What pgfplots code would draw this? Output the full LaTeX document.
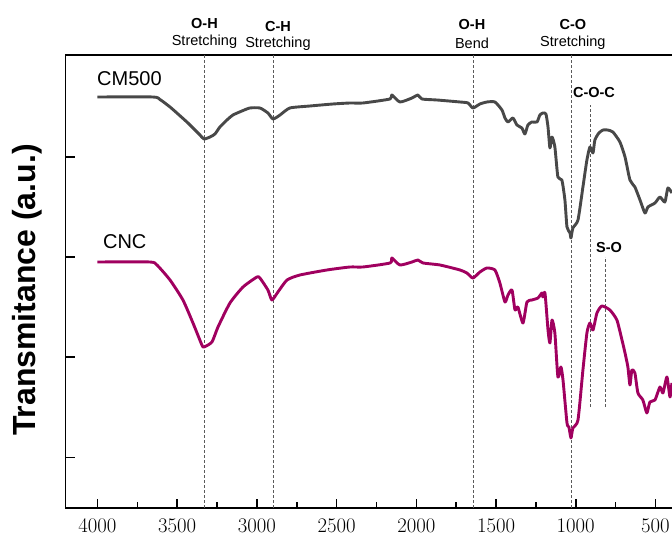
\documentclass[border=0pt]{standalone}
\usepackage{fontspec}
\setmainfont{Liberation Sans}
\usepackage{pgfplots}
\usepackage{pgfplotstable}
\pgfplotsset{compat=1.18}
\definecolor{cmgray}{RGB}{72,72,72}
\definecolor{cncmag}{RGB}{160,0,95}
\definecolor{dashgray}{RGB}{90,90,90}

\pgfplotstableread{
wn t
4000 440
3652 440
3608 437.5
3545 430
3495 423
3439 415
3401 409
3357 402
3332 398
3294 400
3263 403
3232 410
3188 417
3150 422
3094 426
3044 429
2981 429
2931 424
2899 418
2855 422
2793 429
2667 431
2523 433
2416 434
2335 434
2165 438
2153 442
2103 435
2027 439
1990 442
1965 438
1871 437
1726 435
1676 434
1645 429
1601 433
1557 435
1507 435
1463 427
1444 419
1425 415
1394 419
1369 412
1338 409
1319 403
1300 412
1275 415
1243 415
1225 422
1206 424
1187 423
1174 410
1162 389
1149 400
1131 390
1112 360
1087 357
1068 337
1055 310
1036 304
1030 299
1018 309
986 317
955 350
930 377
911 390
892 384
880 397
855 404
829 407
800 407
767 405
723 395
691 380
660 357
629 350
597 337
566 324
547 330
503 334
472 340
441 335
422 349
397 344
}\cmdata

\pgfplotstableread{
wn t
4000 275
3671 275
3627 272
3545 257
3464 237
3401 214
3345 192
3332 190
3282 195
3244 210
3169 234
3087 250
3000 260
2981 259
2931 247
2906 237
2868 245
2811 257
2730 262
2561 267
2416 270
2335 270
2165 274
2153 279
2103 272
2027 275
1990 277
1958 274
1852 272
1726 267
1683 264
1645 259
1601 265
1557 269
1507 267
1476 254
1444 235
1425 242
1400 247
1381 227
1363 230
1331 214
1306 235
1275 237
1237 239
1212 244
1206 240
1193 244
1174 207
1162 194
1149 217
1131 204
1112 160
1093 170
1080 157
1055 114
1043 110
1030 99
1018 109
986 117
955 167
930 204
911 214
892 207
867 224
836 231
786 227
742 217
710 197
691 184
673 170
660 152
648 167
629 164
610 144
579 137
554 124
535 135
503 137
472 150
453 144
428 160
409 140
397 154
}\cncdata

\begin{document}
\begin{tikzpicture}
\begin{axis}[
  scale only axis, width=609pt, height=453pt,
  x dir=reverse, xmin=380, xmax=4200, ymin=29, ymax=482,
  axis line style={line width=1.6pt, black},
  xtick={500,1000,...,4000},
  minor xtick={750,1250,...,3750},
  ytick={79.5,180,280,380}, yticklabels={},
  xtick pos=left, ytick pos=left,
  tick align=inside,
  major tick length=9pt, minor tick length=5.5pt,
  every tick/.style={line width=1.6pt, black},
  scaled x ticks=false,
  /pgf/number format/1000 sep={},
  xticklabel style={font=\fontsize{20}{21}\selectfont, yshift=-8pt},
  ylabel={Transmitance (a.u.)},
  every axis y label/.style={at={(axis description cs:-0.0634,0.481)}, rotate=90, anchor=center, font=\fontsize{32}{34}\selectfont\bfseries},
  clip=false,
]
\draw[dashgray, line width=0.8pt, dash pattern=on 3pt off 2pt] (axis cs:3329,29) -- (axis cs:3329,482);
\draw[dashgray, line width=0.8pt, dash pattern=on 3pt off 2pt] (axis cs:2899,29) -- (axis cs:2899,482);
\draw[dashgray, line width=0.8pt, dash pattern=on 3pt off 2pt] (axis cs:1642,29) -- (axis cs:1642,482);
\draw[dashgray, line width=0.8pt, dash pattern=on 3pt off 2pt] (axis cs:1028,29) -- (axis cs:1028,482);
\draw[dashgray, line width=0.8pt, dash pattern=on 3pt off 2pt] (axis cs:905,130) -- (axis cs:905,432);
\draw[dashgray, line width=0.8pt, dash pattern=on 3pt off 2pt] (axis cs:817,130) -- (axis cs:817,280);

\addplot[cmgray, line width=2.9pt, line join=round, smooth, tension=0.35] table[x=wn, y=t] {\cmdata};
\addplot[cncmag, line width=2.9pt, line join=round, smooth, tension=0.35] table[x=wn, y=t] {\cncdata};

\node[font=\fontsize{14.5}{15}\selectfont\bfseries] at (axis cs:3329,513) {O-H};
\node[font=\fontsize{14.5}{15}\selectfont] at (axis cs:3329,495) {Stretching};
\node[font=\fontsize{14.5}{15}\selectfont\bfseries] at (axis cs:2868,510) {C-H};
\node[font=\fontsize{14.5}{15}\selectfont] at (axis cs:2868,493) {Stretching};
\node[font=\fontsize{14.5}{15}\selectfont\bfseries] at (axis cs:1651,512) {O-H};
\node[font=\fontsize{14.5}{15}\selectfont] at (axis cs:1651,494) {Bend};
\node[font=\fontsize{14.5}{15}\selectfont\bfseries] at (axis cs:1018,512) {C-O};
\node[font=\fontsize{14.5}{15}\selectfont] at (axis cs:1018,494) {Stretching};
\node[font=\fontsize{14.5}{15}\selectfont\bfseries, anchor=west, inner sep=0pt] at (axis cs:1018,444) {C-O-C};
\node[font=\fontsize{14.5}{15}\selectfont\bfseries, anchor=west, inner sep=0pt] at (axis cs:873,289) {S-O};
\node[font=\fontsize{20}{22}\selectfont, anchor=west, inner sep=0pt] at (axis cs:4003,458) {CM500};
\node[font=\fontsize{20}{22}\selectfont, anchor=west, inner sep=0pt] at (axis cs:3966,295) {CNC};
\end{axis}
\pgfresetboundingbox
\useasboundingbox (-65.6pt,-29pt) rectangle (606.4pt,508pt);
\end{tikzpicture}
\end{document}
